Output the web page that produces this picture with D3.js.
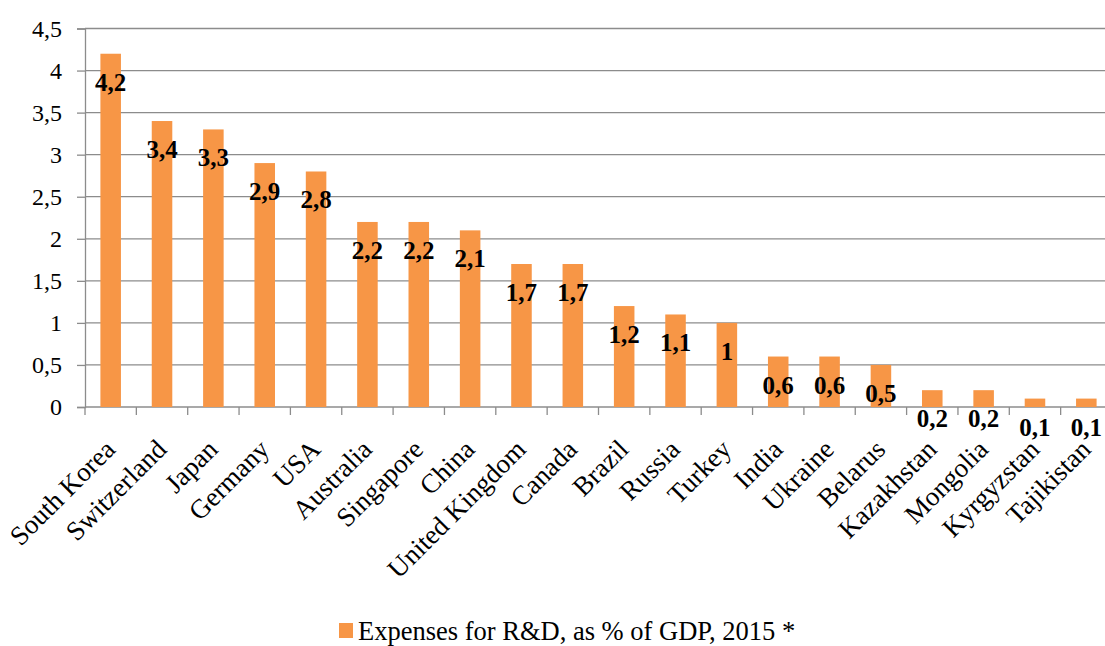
<!DOCTYPE html>
<html>
<head>
<meta charset="utf-8">
<script src="https://cdn.jsdelivr.net/npm/d3@7"></script>
<style>
  body { margin: 0; background: #fff; }
  text { font-family: "Liberation Serif", "Times New Roman", serif; }
</style>
</head>
<body>
<div id="chart"></div>
<script>
var countries = ["South Korea", "Switzerland", "Japan", "Germany", "USA", "Australia", "Singapore",
    "China", "United Kingdom", "Canada", "Brazil", "Russia", "Turkey", "India", "Ukraine",
    "Belarus", "Kazakhstan", "Mongolia", "Kyrgyzstan", "Tajikistan"];
var values = [4.2, 3.4, 3.3, 2.9, 2.8, 2.2, 2.2, 2.1, 1.7, 1.7, 1.2, 1.1, 1, 0.6, 0.6, 0.5, 0.2, 0.2, 0.1, 0.1];
var yTicks = [0, 0.5, 1, 1.5, 2, 2.5, 3, 3.5, 4, 4.5];
var seriesName = "Expenses for R&D, as % of GDP, 2015 *";

var w = 1105, h = 646;
// note: "top" is taken by window.top, so use other names
var plotLeft = 85, plotRight = 1112, plotTop = 28.5, plotBottom = 407;
var barColor = "#F79646";
var gridColor = "#8c8c8c";

// format like excel, comma decimal
var fmt = function(v) { return String(v).replace(".", ","); };

var svg = d3.select("#chart").append("svg")
    .attr("width", w)
    .attr("height", h);

var x = d3.scaleBand().domain(countries).range([plotLeft, plotRight]).paddingInner(0).paddingOuter(0);
var y = d3.scaleLinear().domain([0, 4.5]).range([plotBottom, plotTop]);

//网格线
svg.append("g")
    .selectAll("line")
    .data(yTicks.filter(d => d > 0))
    .enter()
    .append("line")
    .attr("x1", plotLeft)
    .attr("x2", w)
    .attr("y1", d => y(d))
    .attr("y2", d => y(d))
    .attr("stroke", gridColor)
    .attr("stroke-width", 1.3);

// y axis
var yAxis = svg.append("g")
    .attr("transform", "translate(" + plotLeft + ",0)")
    .call(d3.axisLeft(y).tickValues(yTicks).tickFormat(fmt).tickSize(8).tickPadding(15));
yAxis.attr("font-family", null);
yAxis.select(".domain").attr("stroke", gridColor).attr("stroke-width", 1.3);
yAxis.selectAll(".tick line").attr("stroke", gridColor).attr("stroke-width", 1.3);
yAxis.selectAll(".tick text")
    .attr("font-size", "24px")
    .attr("fill", "#000");

// x axis, ticks between categories
var bounds = d3.range(countries.length + 1).map(i => plotLeft + i * x.bandwidth());
var xg = svg.append("g");
xg.append("line")
    .attr("x1", plotLeft).attr("x2", w)
    .attr("y1", plotBottom).attr("y2", plotBottom)
    .attr("stroke", gridColor).attr("stroke-width", 1.3);
xg.selectAll("line.tk")
    .data(bounds)
    .enter()
    .append("line")
    .attr("class", "tk")
    .attr("x1", d => d).attr("x2", d => d)
    .attr("y1", plotBottom).attr("y2", plotBottom + 8)
    .attr("stroke", gridColor).attr("stroke-width", 1.3);

xg.selectAll("text")
    .data(countries)
    .enter()
    .append("text")
    .attr("transform", d => "translate(" + (x(d) + x.bandwidth() / 2 + 6) + "," + (plotBottom + 44) + ") rotate(-45)")
    .attr("text-anchor", "end")
    .attr("font-size", "27px")
    .attr("fill", "#000")
    .text(d => d);

// bars
var bw = x.bandwidth() * 0.4;
svg.append("g")
    .selectAll("rect")
    .data(values)
    .enter()
    .append("rect")
    .attr("x", (d, i) => x(countries[i]) + (x.bandwidth() - bw) / 2)
    .attr("y", d => y(d))
    .attr("width", bw)
    .attr("height", d => plotBottom - y(d))
    .attr("fill", barColor);

// data labels
svg.append("g")
    .selectAll("text")
    .data(values)
    .enter()
    .append("text")
    .attr("x", (d, i) => x(countries[i]) + x.bandwidth() / 2)
    .attr("y", d => y(d) + 37)
    .attr("text-anchor", "middle")
    .attr("font-size", "25px")
    .attr("font-weight", "bold")
    .attr("fill", "#000")
    .text(d => fmt(d));

// legend
var lg = svg.append("g");
lg.append("rect")
    .attr("x", 339).attr("y", 623)
    .attr("width", 14).attr("height", 15)
    .attr("fill", barColor);
lg.append("text")
    .attr("x", 358).attr("y", 640)
    .attr("font-size", "26.5px")
    .attr("fill", "#000")
    .text(seriesName);
</script>
</body>
</html>
